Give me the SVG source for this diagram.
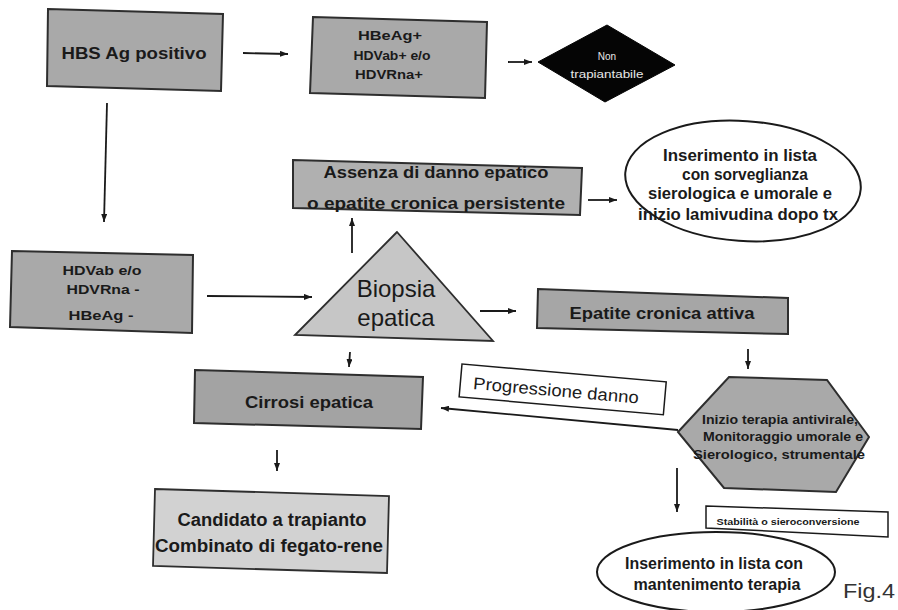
<svg xmlns="http://www.w3.org/2000/svg" width="898" height="610" viewBox="0 0 898 610">
<defs>
<marker id="ah" markerWidth="8" markerHeight="6" refX="8" refY="3" orient="auto" markerUnits="userSpaceOnUse">
<path d="M0,0 L8,3 L0,6 z" fill="#1a1a1a"/>
</marker>
<style>
.box{fill:#a9a9a9;stroke:#2e2e2e;stroke-width:2}
.lt{fill:#c6c6c6;stroke:#2e2e2e;stroke-width:1.8}
.pale{fill:#d2d2d2;stroke:#2e2e2e;stroke-width:1.8}
.ell{fill:#ffffff;stroke:#1a1a1a;stroke-width:2}
.lab{fill:#ffffff;stroke:#1a1a1a;stroke-width:1.5}
.b{font-family:"Liberation Sans",Arial,sans-serif;font-weight:bold;fill:#1a1a1a;text-anchor:middle}
.r{font-family:"Liberation Sans",Arial,sans-serif;fill:#1a1a1a;text-anchor:middle}
.con{stroke:#1a1a1a;stroke-width:1.8;fill:none;marker-end:url(#ah)}
</style>
</defs>
<rect width="898" height="610" fill="#ffffff"/>

<g id="connectors">
<path class="con" d="M243,53 L288,54"/>
<path class="con" d="M508,62 L532,62"/>
<path class="con" d="M107,103 L104,222"/>
<path class="con" d="M207,296 L312,297"/>
<path class="con" d="M352,253 L352,218"/>
<path class="con" d="M588,200 L617,200"/>
<path class="con" d="M480,311 L516,311"/>
<path class="con" d="M748,349 L748,369"/>
<path class="con" d="M350,352 L349,367"/>
<path class="con" d="M678,430 L441,408"/>
<path class="con" d="M277,450 L277,471"/>
<path class="con" d="M677,468 L677,512"/>
</g>

<g id="hbs">
<polygon class="box" points="48,9 223,14 221,91 47,86"/>
<text class="b" x="134" y="59" font-size="16" textLength="145" lengthAdjust="spacingAndGlyphs">HBS Ag positivo</text>
</g>

<g id="hbeag">
<polygon class="box" points="313,17 487,22 485,98 310,93"/>
<text class="b" x="390" y="40" font-size="13.5" textLength="64" lengthAdjust="spacingAndGlyphs">HBeAg+</text>
<text class="b" x="392" y="60" font-size="13.5" textLength="77" lengthAdjust="spacingAndGlyphs">HDVab+ e/o</text>
<text class="b" x="389" y="79" font-size="13.5" textLength="68" lengthAdjust="spacingAndGlyphs">HDVRna+</text>
</g>

<g id="non-trapiantabile">
<polygon points="538,62 607,25 675,65 605,102" fill="#050505" stroke="#050505" stroke-width="1"/>
<text class="r" x="607" y="60" font-size="10" style="fill:#e8e8e8">Non</text>
<text class="r" x="607" y="78" font-size="10" style="fill:#e8e8e8" textLength="73" lengthAdjust="spacingAndGlyphs">trapiantabile</text>
</g>

<g id="assenza">
<polygon class="box" points="293,160 582,168 580,215 293,208" style="fill:#b0b0b0"/>
<text class="b" x="436" y="178" font-size="16" textLength="225" lengthAdjust="spacingAndGlyphs">Assenza di danno epatico</text>
<text class="b" x="436" y="209" font-size="16" textLength="258" lengthAdjust="spacingAndGlyphs">o epatite cronica persistente</text>
</g>

<g id="inserimento-sorveglianza">
<ellipse class="ell" cx="743" cy="181" rx="118" ry="60" transform="rotate(4 743 181)"/>
<text class="b" x="740" y="161" font-size="16" textLength="154" lengthAdjust="spacingAndGlyphs">Inserimento in lista</text>
<text class="b" x="745" y="180" font-size="16" textLength="126" lengthAdjust="spacingAndGlyphs">con sorveglianza</text>
<text class="b" x="740" y="199" font-size="16" textLength="184" lengthAdjust="spacingAndGlyphs">sierologica e umorale e</text>
<text class="b" x="738" y="220" font-size="16" textLength="200" lengthAdjust="spacingAndGlyphs">inizio lamivudina dopo tx</text>
</g>

<g id="hdvab">
<polygon class="box" points="12,251 193,255 192,333 10,327"/>
<text class="b" x="102" y="275" font-size="13.5" textLength="79" lengthAdjust="spacingAndGlyphs">HDVab e/o</text>
<text class="b" x="103" y="294" font-size="13.5" textLength="73" lengthAdjust="spacingAndGlyphs">HDVRna -</text>
<text class="b" x="101" y="320" font-size="13.5" textLength="65" lengthAdjust="spacingAndGlyphs">HBeAg -</text>
</g>

<g id="biopsia">
<polygon class="lt" points="397,232 295,335 493,341"/>
<text class="r" x="396" y="297" font-size="24">Biopsia</text>
<text class="r" x="396" y="326" font-size="24">epatica</text>
</g>

<g id="epatite-attiva">
<polygon class="box" points="538,289 788,298 788,334 537,328" style="fill:#a6a6a6"/>
<text class="b" x="662" y="319" font-size="17" textLength="185" lengthAdjust="spacingAndGlyphs">Epatite cronica attiva</text>
</g>

<g id="terapia">
<polygon class="box" points="678,432 729,377 827,380 869,437 836,492 724,488"/>
<text class="b" x="780" y="424" font-size="12" textLength="156" lengthAdjust="spacingAndGlyphs">Inizio terapia antivirale,</text>
<text class="b" x="783" y="441" font-size="12" textLength="160" lengthAdjust="spacingAndGlyphs">Monitoraggio umorale e</text>
<text class="b" x="779" y="459" font-size="12" textLength="172" lengthAdjust="spacingAndGlyphs">Sierologico, strumentale</text>
</g>

<g id="progressione">
<g transform="translate(462,364) rotate(5)">
<rect class="lab" x="0" y="0" width="205" height="33"/>
<text class="r" x="96" y="24" font-size="17" textLength="166" lengthAdjust="spacingAndGlyphs">Progressione danno</text>
</g>
</g>

<g id="cirrosi">
<polygon class="box" points="195,370 423,377 421,429 194,423" style="fill:#a3a3a3"/>
<text class="b" x="309" y="408" font-size="17" textLength="128" lengthAdjust="spacingAndGlyphs">Cirrosi epatica</text>
</g>

<g id="candidato">
<polygon class="pale" points="155,489 389,496 387,573 153,566"/>
<text class="b" x="272" y="526" font-size="18" textLength="189" lengthAdjust="spacingAndGlyphs">Candidato a trapianto</text>
<text class="b" x="269" y="552" font-size="18" textLength="228" lengthAdjust="spacingAndGlyphs">Combinato di fegato-rene</text>
</g>

<g id="stabilita">
<polygon class="lab" points="706,506 888,512 888,537 706,528"/>
<text class="b" x="788" y="525" font-size="8.5" textLength="143" lengthAdjust="spacingAndGlyphs">Stabilità o sieroconversione</text>
</g>

<g id="inserimento-terapia">
<ellipse class="ell" cx="716" cy="572" rx="119" ry="40"/>
<text class="b" x="714" y="569" font-size="16" textLength="178" lengthAdjust="spacingAndGlyphs">Inserimento in lista con</text>
<text class="b" x="717" y="590" font-size="16" textLength="167" lengthAdjust="spacingAndGlyphs">mantenimento terapia</text>
</g>

<text class="r" x="869" y="598" font-size="21" style="fill:#333333" textLength="52" lengthAdjust="spacingAndGlyphs">Fig.4</text>
</svg>
